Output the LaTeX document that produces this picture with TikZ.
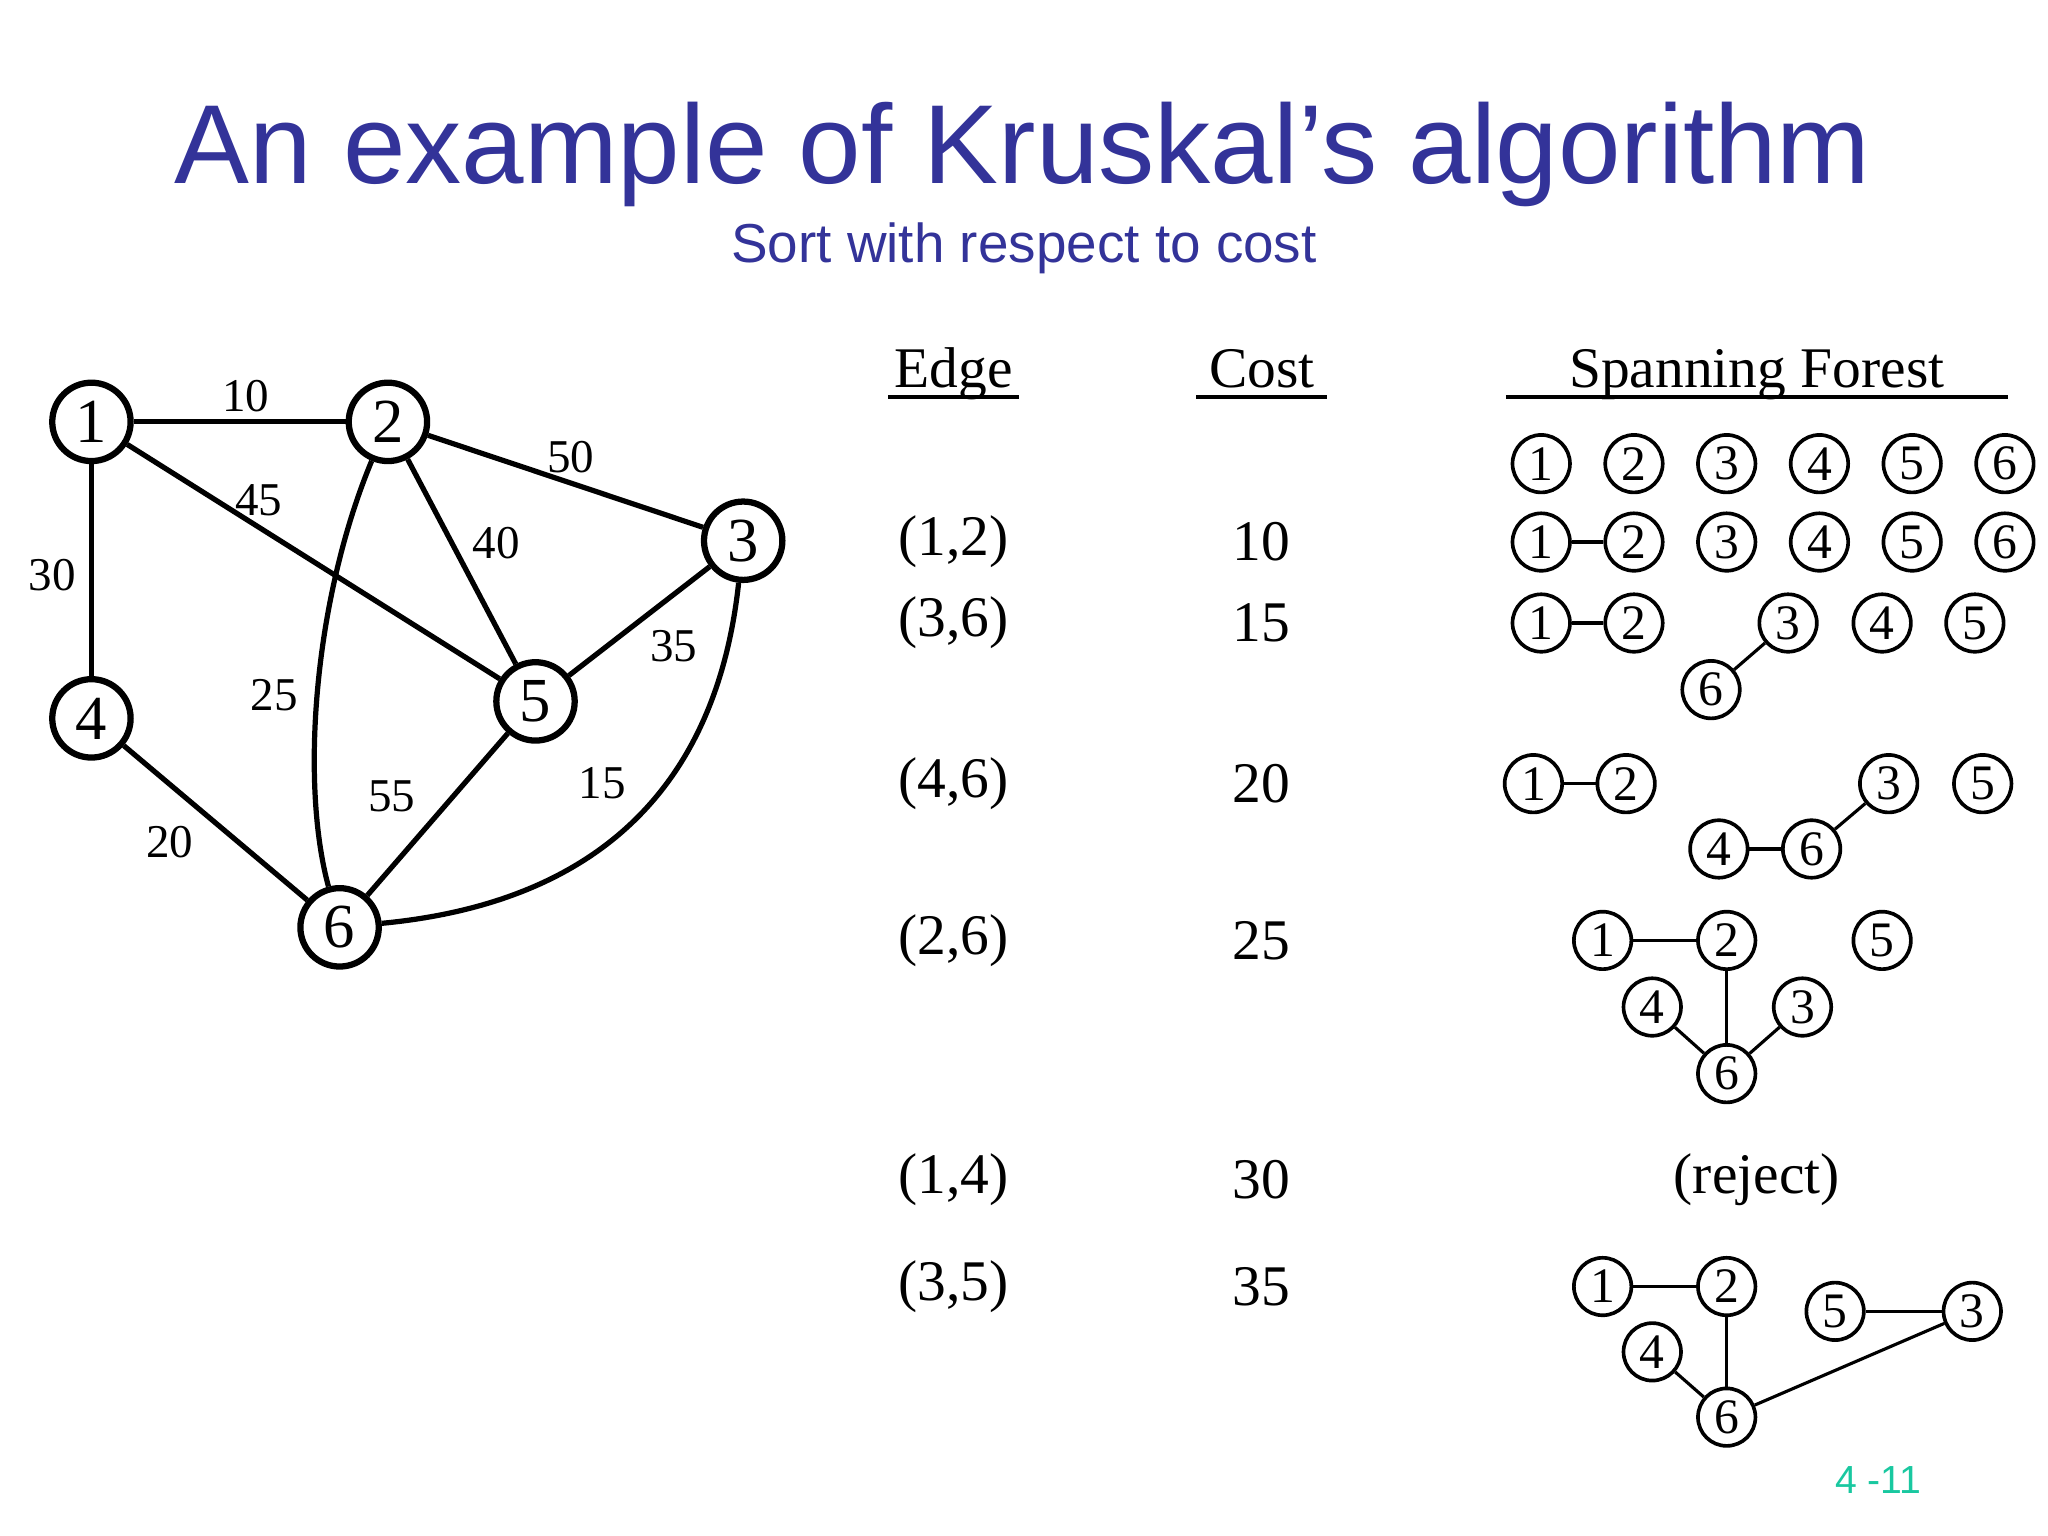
\documentclass[tikz,border=0pt]{standalone}
\usepackage{fontspec}
\setmainfont{Liberation Serif}
\setsansfont{Liberation Sans}
\definecolor{titleblue}{HTML}{333399}
\definecolor{pgreen}{HTML}{19C8A0}
\tikzset{
 big/.style={circle,draw,line width=2.4pt,minimum size=30pt,inner sep=0pt,font=\fontsize{24}{24}\selectfont},
 sm/.style={circle,draw,line width=1.4pt,minimum size=22pt,inner sep=0pt,font=\fontsize{19}{19}\selectfont},
 ge/.style={line width=2pt},
 se/.style={line width=1.2pt},
 lab/.style={font=\fontsize{18}{18}\selectfont},
 tx/.style={font=\fontsize{22}{22}\selectfont},
 hd/.style={font=\fontsize{22}{22}\selectfont,anchor=base},
}
\begin{document}
\begin{tikzpicture}[x=0.5pt,y=-0.5pt]
\useasboundingbox[fill=white] (0,0) rectangle (1568,1176);
\node[text=titleblue,font=\sffamily\fontsize{43}{43}\selectfont] (title) at (783,118) {An example of Kruskal’s algorithm};
\node[text=titleblue,font=\sffamily\fontsize{21}{21}\selectfont] (sub) at (784,190) {Sort with respect to cost};
% graph
\node[big] (n1) at (70,323) {1};
\node[big] (n2) at (297,323) {2};
\node[big] (n3) at (569,414) {3};
\node[big] (n4) at (70,550) {4};
\node[big] (n5) at (410,537) {5};
\node[big] (n6) at (260,710) {6};
\draw[ge] (n1)--(n2); \draw[ge] (n1)--(n4); \draw[ge] (n1)--(n5);
\draw[ge] (n2)--(n5); \draw[ge] (n2)--(n3); \draw[ge] (n3)--(n5);
\draw[ge] (n5)--(n6); \draw[ge] (n4)--(n6);
\draw[ge] (n2) .. controls (240,460) and (230,600) .. (n6);
\draw[ge] (n3) .. controls (550,590) and (470,690) .. (n6);
\node[lab] (l10) at (188,303) {10};
\node[lab] (l30) at (40,440) {30};
\node[lab] (l45) at (198,383) {45};
\node[lab] (l40) at (380,416) {40};
\node[lab] (l50) at (437,350) {50};
\node[lab] (l35) at (516,495) {35};
\node[lab] (l25) at (210,532) {25};
\node[lab] (l55) at (300,610) {55};
\node[lab] (l20) at (130,645) {20};
\node[lab] (l15) at (461,600) {15};
% table headers
\node[hd] (he) at (730,297) {Edge};
\draw[line width=1.6pt] (680,304)--(780,304);
\node[hd] (hc) at (966,297) {Cost};
\draw[line width=1.6pt] (916,304)--(1016,304);
\node[hd] (hs) at (1345,297) {Spanning Forest};
\draw[line width=1.6pt] (1153,304)--(1537,304);
\foreach \e/\c/\y [count=\i] in {{(1,2)}/10/415,{(3,6)}/15/477,{(4,6)}/20/600,{(2,6)}/25/720,{(1,4)}/30/903,{(3,5)}/35/985}{
 \node[tx] (e\i) at (730,\y) {\e};
 \node[tx] (c\i) at (966,\y) {\c};
}
\node[tx] (rej) at (1345,903) {(reject)};
% row0, row1
\foreach \k/\x in {1/1180,2/1251,3/1322,4/1393,5/1464,6/1535}{
 \node[sm] (a\k) at (\x,355) {\k};
 \node[sm] (b\k) at (\x,415) {\k};
}
\draw[se] (b1)--(b2);
% row2
\node[sm] (c1n) at (1180,477) {1}; \node[sm] (c2n) at (1251,477) {2};
\node[sm] (c3n) at (1369,477) {3}; \node[sm] (c4n) at (1441,477) {4};
\node[sm] (c5n) at (1512,477) {5}; \node[sm] (c6n) at (1310,528) {6};
\draw[se] (c1n)--(c2n); \draw[se] (c3n)--(c6n);
% row3
\node[sm] (d1) at (1174,600) {1}; \node[sm] (d2) at (1245,600) {2};
\node[sm] (d3) at (1446,600) {3}; \node[sm] (d5) at (1518,600) {5};
\node[sm] (d4) at (1316,650) {4}; \node[sm] (d6) at (1387,650) {6};
\draw[se] (d1)--(d2); \draw[se] (d4)--(d6); \draw[se] (d6)--(d3);
% row4
\node[sm] (f1) at (1227,720) {1}; \node[sm] (f2) at (1322,720) {2};
\node[sm] (f5) at (1441,720) {5}; \node[sm] (f4) at (1265,771) {4};
\node[sm] (f3) at (1380,771) {3}; \node[sm] (f6) at (1322,822) {6};
\draw[se] (f1)--(f2); \draw[se] (f2)--(f6); \draw[se] (f4)--(f6); \draw[se] (f3)--(f6);
% row6
\node[sm] (g1) at (1227,985) {1}; \node[sm] (g2) at (1322,985) {2};
\node[sm] (g5) at (1405,1004) {5}; \node[sm] (g3) at (1510,1004) {3};
\node[sm] (g4) at (1265,1035) {4}; \node[sm] (g6) at (1322,1085) {6};
\draw[se] (g1)--(g2); \draw[se] (g2)--(g6); \draw[se] (g4)--(g6);
\draw[se] (g5)--(g3); \draw[se] (g6)--(g3);
\node[text=pgreen,font=\sffamily\fontsize{15}{15}\selectfont] (pg) at (1438,1133) {4 -11};
\end{tikzpicture}
\end{document}
